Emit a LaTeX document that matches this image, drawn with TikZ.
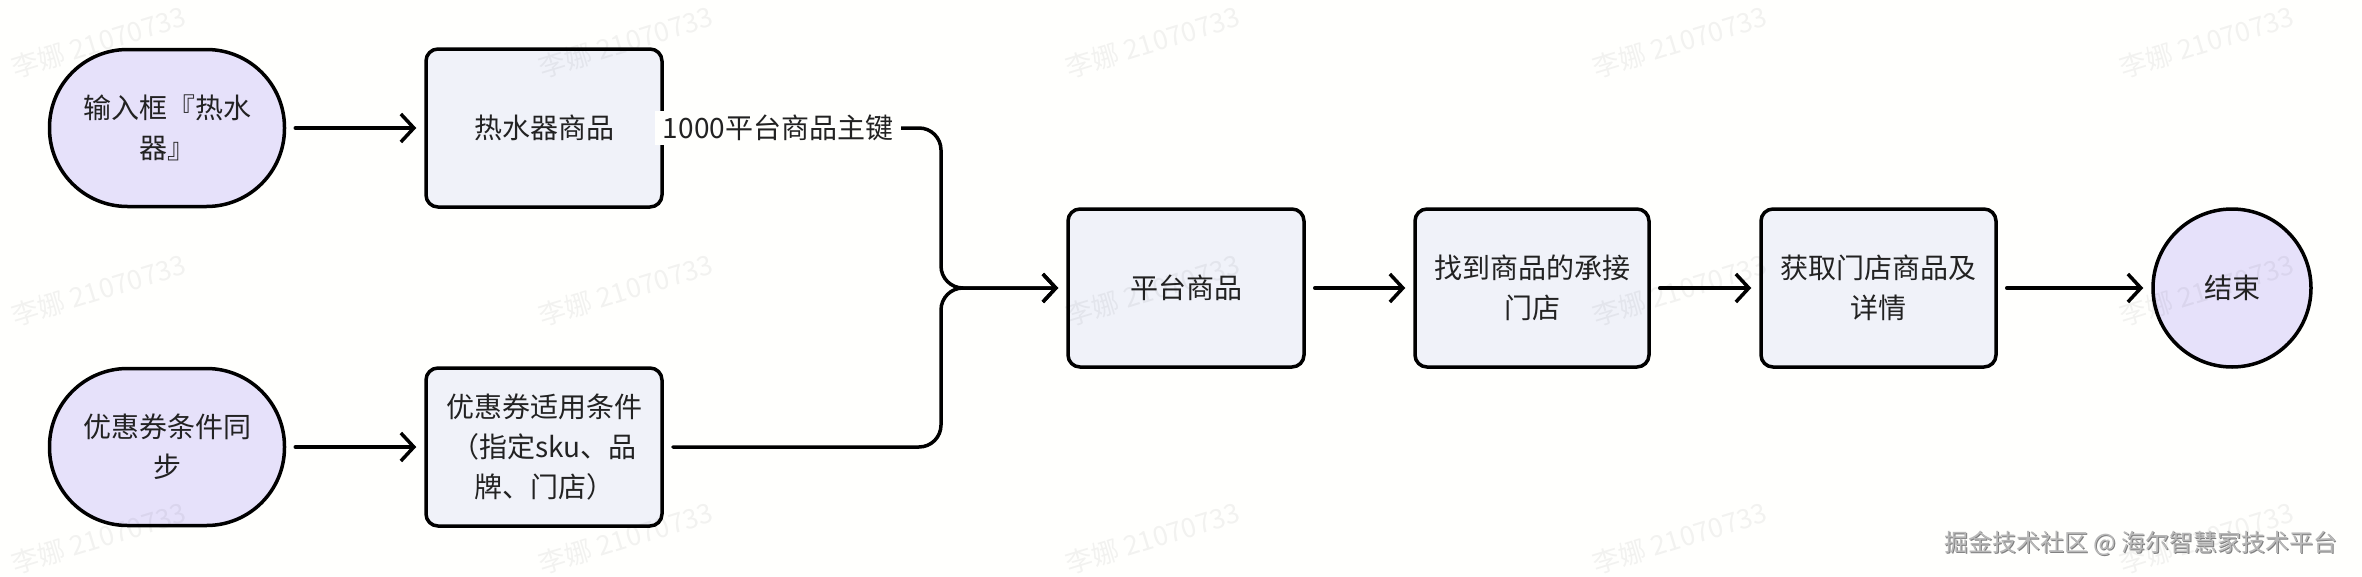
\documentclass[tikz,border=0pt]{standalone}
\usepackage{fontspec}
\setmainfont{Noto Sans CJK SC}
\usetikzlibrary{arrows.meta}
\definecolor{bgc}{HTML}{FFFFFD}
\definecolor{lav}{HTML}{E6E1FA}
\definecolor{boxc}{HTML}{F0F2F9}
\definecolor{txt}{HTML}{222222}
\tikzset{
  base/.style={draw=black, line width=3.5pt, text=txt, align=center,
    font=\fontsize{28}{40}\selectfont, inner sep=0pt},
  stadium/.style={base, fill=lav, rounded corners=78pt,
    minimum width=235pt, minimum height=157pt},
  procbox/.style={base, fill=boxc, rounded corners=12pt,
    minimum width=236pt, minimum height=158pt},
  endcirc/.style={base, fill=lav, circle, minimum size=158pt},
  conn/.style={draw=black, line width=3.5pt, line cap=round, line join=round,
    -{Straight Barb[length=13pt,width=28pt,line width=3.5pt]},
    shorten <=9pt, shorten >=8pt},
  lbl/.style={fill=bgc, text=txt, font=\fontsize{28}{40}\selectfont,
    inner xsep=8pt, inner ysep=4pt},
  wm/.style={text=black, opacity=0.05, rotate=17,
    font=\fontsize{27}{30}\selectfont},
  foot/.style={font=\fontsize{24}{28}\selectfont, anchor=east},
}
\begin{document}
\begin{tikzpicture}[x=1pt, y=-1pt]
\useasboundingbox (0,0) rectangle (2362,576);
\fill[bgc] (0,0) rectangle (2362,576);

\node[stadium] (s1) at (167,128) {输入框『热水\\器』};
\node[procbox] (b1) at (544,128) {热水器商品};
\node[stadium] (s2) at (167,447) {优惠券条件同\\步};
\node[procbox] (b2) at (544,447) {优惠券适用条件\\（指定sku、品\\牌、门店）};
\node[procbox] (p) at (1186,288) {平台商品};
\node[procbox, minimum width=234pt] (b3) at (1532,288) {找到商品的承接\\门店};
\node[procbox, minimum width=235pt] (b4) at (1878.5,288) {获取门店商品及\\详情};
\node[endcirc] (e) at (2232,288) {结束};

\coordinate (ja) at (941,128);
\coordinate (jm) at (941,288);
\coordinate (jb) at (941,447);

\draw[conn] (s1) -- (b1);
\draw[conn] (s2) -- (b2);
\draw[conn, rounded corners=22pt] (b1.east) -- (ja) -- (jm) -- (p.west);
\draw[conn, rounded corners=22pt] (b2.east) -- (jb) -- (jm) -- (p.west);
\node[lbl] (l1) at (778,128) {1000平台商品主键};
\draw[conn] (p) -- (b3);
\draw[conn] (b3) -- (b4);
\draw[conn] (b4) -- (e);

\foreach \i in {0,...,4}{
  \foreach \j/\yy in {0/42,1/290,2/538}{
    \node[wm] (w\i\j) at ({99+527*\i},\yy) {李娜 21070733};
  }
}

\node[foot, text=black!50] (fs) at (2342,544) {掘金技术社区 @ 海尔智慧家技术平台};
\node[foot, text=black!28] (ft) at (2341,543) {掘金技术社区 @ 海尔智慧家技术平台};
\end{tikzpicture}
\end{document}
